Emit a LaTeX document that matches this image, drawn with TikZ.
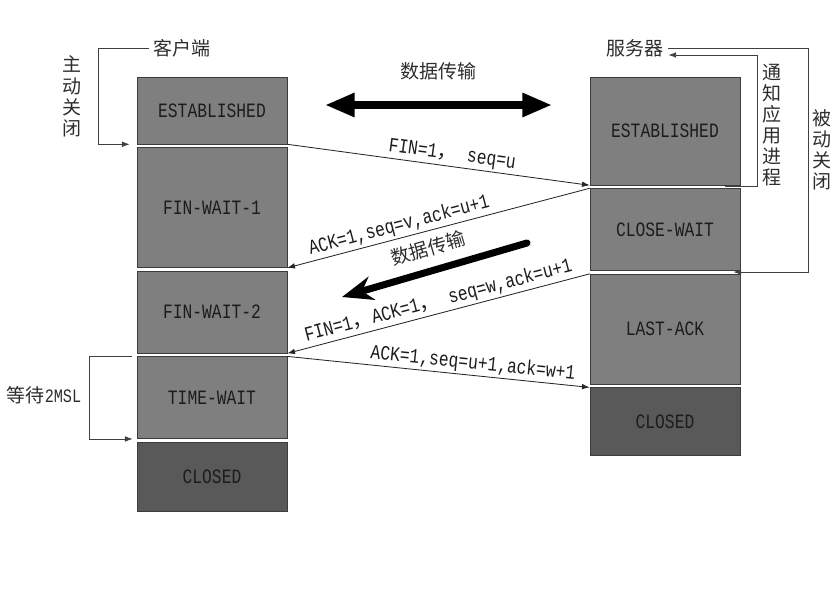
\documentclass[tikz,border=0pt]{standalone}
\usepackage{fontspec}
\setmainfont{Liberation Mono}[FakeStretch=0.8]
\newfontfamily\cjk{Noto Sans CJK SC}
\usepackage{tikz}
\usetikzlibrary{arrows.meta,positioning,calc}
\definecolor{boxgrey}{RGB}{127,127,127}
\definecolor{closedgrey}{RGB}{89,89,89}
\definecolor{boxline}{RGB}{60,60,60}
\definecolor{textcol}{RGB}{28,28,28}
\definecolor{notecol}{RGB}{45,45,45}
\tikzset{
  statebox/.style={rectangle,draw=boxline,fill=boxgrey,minimum width=3.75cm,inner sep=0pt,
    text=textcol,font=\fontsize{14.5}{16}\selectfont},
  closedbox/.style={statebox,fill=closedgrey},
  msgarrow/.style={-{Latex[length=5.5pt,width=4pt]},line width=0.6pt,black!85},
  msglabel/.style={sloped,above=1.5pt,inner sep=0pt,text=textcol,font=\fontsize{14.5}{16}\selectfont},
  bigarrow/.style={line width=5pt,black},
  sidearrow/.style={-{Latex[length=5.5pt,width=4pt]},line width=0.6pt,black!75},
  cjklabel/.style={align=center,text=notecol,font=\cjk\fontsize{13.5}{15}\selectfont},
}

\begin{document}
\begin{tikzpicture}
  \useasboundingbox (0,0) rectangle (21,15.2);
  % client column
  \node[statebox,minimum height=1.675cm] (cEst) at (5.3,12.4375) {ESTABLISHED};
  \node[statebox,minimum height=3cm,below=0.075cm of cEst] (cFw1) {FIN-WAIT-1};
  \node[statebox,minimum height=2.05cm,below=0.075cm of cFw1] (cFw2) {FIN-WAIT-2};
  \node[statebox,minimum height=2.05cm,below=0.075cm of cFw2] (cTw) {TIME-WAIT};
  \node[closedbox,minimum height=1.725cm,below=0.075cm of cTw] (cCl) {CLOSED};
  % server column
  \node[statebox,minimum height=2.7cm] (sEst) at (16.625,11.925) {ESTABLISHED};
  \node[statebox,minimum height=2.05cm,below=0.075cm of sEst] (sCw) {CLOSE-WAIT};
  \node[statebox,minimum height=2.75cm,below=0.075cm of sCw] (sLa) {LAST-ACK};
  \node[closedbox,minimum height=1.7cm,below=0.075cm of sLa] (sCl) {CLOSED};
  % messages
  \draw[msgarrow] (cEst.south east) -- node[msglabel,pos=0.54] {FIN=1{\cjk ，} seq=u} (sEst.south west);
  \draw[msgarrow] (sCw.north west) -- node[msglabel,pos=0.62] {ACK=1,seq=v,ack=u+1} (cFw1.south east);
  \draw[msgarrow] (sLa.north west) -- node[msglabel,pos=0.49] {FIN=1{\cjk ，}ACK=1{\cjk ，} seq=w,ack=u+1} (cFw2.south east);
  \draw[msgarrow] (cTw.north east) -- node[msglabel,pos=0.61] {ACK=1,seq=u+1,ack=w+1} (sCl.north west);
  % data transfer
  \coordinate (dataL) at (8.125,12.575);
  \coordinate (dataR) at (13.8,12.575);
  \draw[bigarrow,{Triangle[length=21pt,width=16pt]}-{Triangle[length=21pt,width=16pt]}]
    (dataL) -- node[cjklabel,above=12pt] {数据传输} (dataR);
  \coordinate (halfS) at (13.175,9.125);
  \coordinate (halfE) at (8.55,7.775);
  \draw[bigarrow,line cap=round,-{Stealth[length=22pt,width=17pt]}]
    (halfS) -- node[cjklabel,sloped,above=4pt] {数据传输} (halfE);
  % client notes
  \node[cjklabel] (cTitle) at (4.55,14.0) {客户端};
  \node[cjklabel] (cActive) at (1.8,12.79) {主\\动\\关\\闭};
  \coordinate (cOpenEnd) at ($(cEst.south west)+(-0.175,0)$);
  \draw[sidearrow] (cTitle.west) -- ++(-1.25,0) |- (cOpenEnd);
  \node[cjklabel] (cWait) at (1.1,5.325) {等待{\rmfamily 2MSL}};
  \coordinate (twStart) at ($(cTw.north west)+(-0.125,0)$);
  \coordinate (twEnd) at ($(cTw.south west)+(-0.1,0)$);
  \draw[sidearrow] (twStart) -- ++(-1.05,0) |- (twEnd);
  % server notes
  \node[cjklabel] (sTitle) at (15.875,14.0) {服务器};
  \node[cjklabel] (sNotify) at (19.3,12.075) {通\\知\\应\\用\\进\\程};
  \node[cjklabel] (sPassive) at (20.55,11.45) {被\\动\\关\\闭};
  \coordinate (sNotStart) at ($(sEst.south east)+(-0.375,-0.025)$);
  \coordinate (sNotEnd) at ($(sTitle.east)+(0,-0.175)$);
  \draw[sidearrow] (sNotStart) -- ++(0.8,0) |- (sNotEnd);
  \coordinate (sPassEnd) at ($(sCw.south east)+(-0.175,-0.03)$);
  \draw[sidearrow] (sTitle.east) -- ++(3.5,0) |- (sPassEnd);
\end{tikzpicture}
\end{document}
